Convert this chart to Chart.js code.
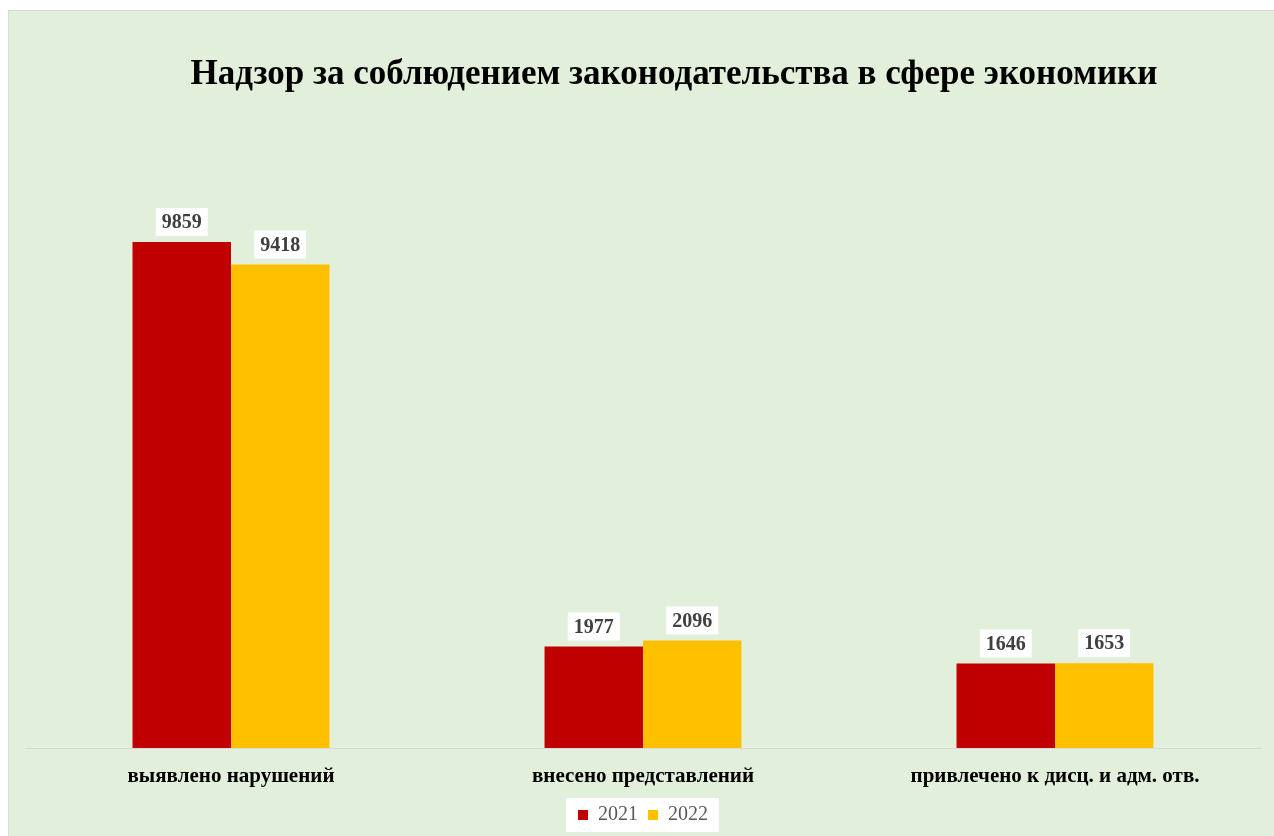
<!DOCTYPE html>
<html>
<head>
<meta charset="utf-8">
<script src="https://cdn.jsdelivr.net/npm/chart.js@4.4.1/dist/chart.umd.min.js"></script>
<style>
  html, body { margin: 0; padding: 0; background: #ffffff; }
  #wrap {
    position: absolute; left: 8px; top: 10px;
    width: 1266px; height: 826px;
    background: #e2efda;
    border-top: 1px solid #d9d9d9; border-left: 1px solid #d9d9d9;
    box-sizing: border-box;
  }
</style>
</head>
<body>
<div id="wrap"><canvas id="chart"></canvas></div>
<script>
// --- data ---
const categories = ["выявлено нарушений", "внесено представлений", "привлечено к дисц. и адм. отв."];
const values2021 = [9859, 1977, 1646];
const values2022 = [9418, 2096, 1653];
const seriesNames = ["2021", "2022"];

const serif = "'Liberation Serif', 'Times New Roman', serif";

// title sits a bit right of centre in the original
const titleShift = {
  id: "titleShift",
  afterLayout(chart) {
    if (chart.titleBlock) chart.titleBlock.left += 62;
  }
};

// white box behind the legend items
const legendBg = {
  id: "legendBg",
  beforeDraw(chart) {
    const lg = chart.legend;
    if (!lg || !lg.legendHitBoxes || !lg.legendHitBoxes.length) return;
    const hb = lg.legendHitBoxes;
    const l = Math.min(...hb.map(b => b.left)) - 12;
    const r = Math.max(...hb.map(b => b.left + b.width)) + 11;
    const t = Math.min(...hb.map(b => b.top)) - 7;
    const btm = Math.max(...hb.map(b => b.top + b.height)) + 7;
    const ctx = chart.ctx;
    ctx.save();
    ctx.fillStyle = "#ffffff";
    ctx.fillRect(l, t, r - l, btm - t);
    ctx.restore();
  }
};

// value labels in white boxes above each bar
const valueLabels = {
  id: "valueLabels",
  afterDatasetsDraw(chart) {
    const ctx = chart.ctx;
    ctx.save();
    ctx.font = "bold 20px " + serif;
    ctx.textAlign = "center";
    ctx.textBaseline = "middle";
    chart.data.datasets.forEach((ds, di) => {
      chart.getDatasetMeta(di).data.forEach((bar, i) => {
        const txt = String(ds.data[i]);
        const w = ctx.measureText(txt).width + 12;
        const h = 28;
        const x = bar.x;
        const bottom = bar.y - 6;
        ctx.fillStyle = "#ffffff";
        ctx.fillRect(x - w / 2, bottom - h, w, h);
        ctx.fillStyle = "#404040";
        ctx.fillText(txt, x, bottom - h / 2 + 1);
      });
    });
    ctx.restore();
  }
};

new Chart(document.getElementById("chart"), {
  type: "bar",
  data: {
    labels: categories,
    datasets: [
      { label: seriesNames[0], data: values2021, backgroundColor: "#c00000" },
      { label: seriesNames[1], data: values2022, backgroundColor: "#ffc000" }
    ]
  },
  options: {
    responsive: true,
    maintainAspectRatio: false,
    animation: false,
    layout: { padding: { left: 16, right: 13, top: 0, bottom: 1 } },
    datasets: { bar: { categoryPercentage: 0.478, barPercentage: 1.0 } },
    scales: {
      x: {
        grid: { display: false },
        border: { display: true, color: "#d9d9d9", width: 1 },
        ticks: { color: "#000000", padding: 8, font: { family: serif, size: 21, weight: "bold" } },
        afterFit(scale) { scale.height = 47; }
      },
      y: { display: false, min: 0, max: 12000 }
    },
    plugins: {
      title: {
        display: true,
        text: "Надзор за соблюдением законодательства в сфере экономики",
        color: "#000000",
        font: { family: serif, size: 35, weight: "bold" },
        padding: { top: 43, bottom: 36 }
      },
      legend: {
        position: "bottom",
        labels: {
          color: "#595959",
          boxWidth: 10, boxHeight: 10,
          padding: 10,
          font: { family: serif, size: 20 }
        }
      },
      tooltip: { enabled: false }
    }
  },
  plugins: [titleShift, legendBg, valueLabels]
});
</script>
</body>
</html>
